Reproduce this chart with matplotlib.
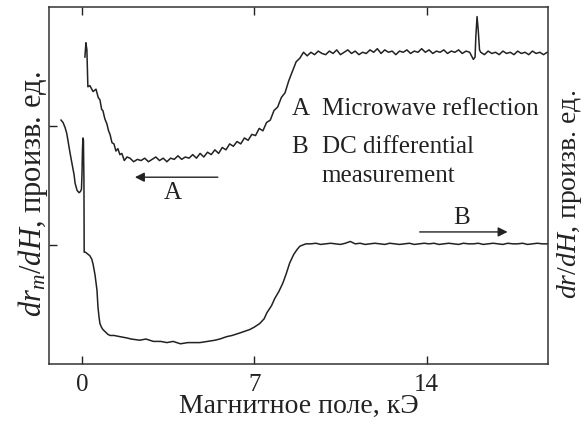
import numpy as np
import matplotlib
matplotlib.use("Agg")
import matplotlib.pyplot as plt

plt.rcParams['font.family'] = ['Liberation Serif', 'DejaVu Serif']
plt.rcParams['mathtext.fontset'] = 'custom'
plt.rcParams['mathtext.rm'] = 'Liberation Serif'
plt.rcParams['mathtext.it'] = 'Liberation Serif:italic'

# ---- Curve A: microwave reflection (dr_m/dH) ----
a_x_start = [0.12, 0.16, 0.20, 0.24, 0.32, 0.45, 0.57, 0.66, 0.73, 0.80, 0.85, 0.93,
             1.01, 1.08, 1.14, 1.22, 1.30, 1.38, 1.46, 1.54, 1.62, 1.72, 1.83]
a_y_start = [2.58, 2.70, 2.64, 2.33, 2.34, 2.29, 2.31, 2.24, 2.22, 2.14, 2.13, 2.06,
             2.02, 1.96, 1.93, 1.86, 1.85, 1.79, 1.81, 1.76, 1.77, 1.71, 1.74]
a_grid_start, a_grid_step = 1.95, 0.15
a_y_grid = [1.73, 1.70, 1.72, 1.71, 1.73, 1.70, 1.72, 1.74, 1.71, 1.73,
            1.70, 1.73, 1.72, 1.75, 1.72, 1.74, 1.73, 1.76, 1.73, 1.77,
            1.74, 1.78, 1.76, 1.80, 1.77, 1.82, 1.80, 1.85, 1.83, 1.87,
            1.85, 1.90, 1.88, 1.93, 1.92, 1.98, 1.96, 2.03, 2.05, 2.13,
            2.16, 2.24, 2.28, 2.38, 2.46, 2.54, 2.57, 2.62, 2.59, 2.62,
            2.60, 2.63, 2.61, 2.60, 2.63, 2.61, 2.64, 2.60, 2.62, 2.64,
            2.61, 2.63, 2.60, 2.62, 2.61, 2.64, 2.62, 2.65, 2.61, 2.64,
            2.62, 2.63, 2.60, 2.63, 2.62, 2.64, 2.61, 2.63, 2.62, 2.65,
            2.62, 2.64, 2.61, 2.63, 2.62, 2.64, 2.61, 2.63, 2.62, 2.64,
            2.61, 2.63, 2.62, 2.56, 2.92, 2.62, 2.60, 2.63, 2.61, 2.62,
            2.60, 2.63, 2.61, 2.62, 2.60, 2.63, 2.61, 2.62, 2.60, 2.63,
            2.61, 2.62, 2.60, 2.62]
a_x_spike = [15.97, 16.00, 16.10, 16.15]
a_y_spike = [2.58, 2.75, 2.80, 2.64]

# ---- Curve B: DC differential measurement (dr/dH) ----
b_x_start = [-0.85, -0.77, -0.69, -0.62, -0.57, -0.49, -0.41, -0.32, -0.28, -0.20, -0.12,
             -0.06, -0.02, 0.00, 0.02, 0.04, 0.06, 0.07, 0.08, 0.09, 0.14, 0.20, 0.26,
             0.32, 0.40, 0.45, 0.53, 0.61, 0.65, 0.69, 0.73, 0.79, 0.85, 0.95, 1.05,
             1.14, 1.30, 1.54, 1.80, 2.00, 2.35, 2.60, 2.90, 3.20, 3.45, 3.70, 4.00,
             4.30, 4.79, 5.10, 5.40, 5.60, 5.88, 6.10, 6.40, 6.82, 7.00, 7.22, 7.40,
             7.51, 7.70, 7.83, 8.00, 8.16, 8.30, 8.44, 8.60, 8.73, 8.85, 8.97, 9.10]
b_y_start = [2.05, 2.03, 1.99, 1.94, 1.88, 1.78, 1.69, 1.59, 1.52, 1.46, 1.44,
             1.45, 1.47, 1.59, 1.80, 1.90, 1.88, 1.70, 1.55, 0.94, 0.94, 0.93, 0.92,
             0.91, 0.88, 0.84, 0.75, 0.62, 0.48, 0.40, 0.34, 0.31, 0.29, 0.27, 0.25,
             0.24, 0.24, 0.23, 0.22, 0.21, 0.20, 0.21, 0.19, 0.19, 0.18, 0.19, 0.17,
             0.18, 0.18, 0.19, 0.20, 0.21, 0.23, 0.24, 0.26, 0.29, 0.31, 0.34, 0.38,
             0.43, 0.49, 0.55, 0.61, 0.68, 0.76, 0.85, 0.92, 0.96, 0.99, 1.00, 1.01]
b_grid_start, b_grid_step = 9.3, 0.2
b_y_grid = [1.010, 1.015, 1.005, 1.010, 1.015, 1.010, 1.005, 1.015, 1.030, 1.010,
            1.015, 1.005, 1.010, 1.015, 1.010, 1.005, 1.015, 1.010, 1.005, 1.010,
            1.015, 1.005, 1.010, 1.015, 1.010, 1.015, 1.005, 1.010, 1.015, 1.010,
            1.005, 1.015, 1.010, 1.010, 1.015, 1.005, 1.010, 1.015, 1.010, 1.005,
            1.015, 1.010, 1.010, 1.015, 1.005, 1.010, 1.015, 1.010, 1.010]

x_ticks = [0, 7, 14]
y_ticks = [1, 2]

def build(xs, ys, g0, gstep, gy, extra_x=(), extra_y=()):
    gx = g0 + gstep * np.arange(len(gy))
    x = np.concatenate([xs, gx, extra_x])
    y = np.concatenate([ys, gy, extra_y])
    o = np.argsort(x, kind='stable')
    return x[o], y[o]

ax_, ay_ = build(a_x_start, a_y_start, a_grid_start, a_grid_step, a_y_grid, a_x_spike, a_y_spike)
bx_, by_ = build(b_x_start, b_y_start, b_grid_start, b_grid_step, b_y_grid)

fig = plt.figure(figsize=(5.88, 4.28), dpi=100)
ax = fig.add_axes([0.0833, 0.1495, 0.849, 0.834])
ax.plot(ax_, ay_, color='#222222', lw=1.1)
ax.plot(bx_, by_, color='#222222', lw=1.1)

ax.set_xlim(-1.34, 18.94)
ax.set_ylim(0, 3)
ax.set_xticks(x_ticks)
ax.set_yticks(y_ticks)
ax.set_yticklabels([])
ax.tick_params(direction='in', length=6, width=1.0, top=True, right=True,
               labelsize=18, pad=7, colors='#222222')
for s in ax.spines.values():
    s.set_linewidth(1.1)
    s.set_color('#333333')

ax.set_xlabel('Магнитное поле, кЭ', fontsize=20, labelpad=-1, color='#222222')
ax.set_ylabel(r'$dr_m/dH$, произв. ед.', fontsize=22, color='#222222')
ax.yaxis.set_label_coords(0.002, 0.476)
ax2 = ax.twinx()
ax2.set_ylim(0, 3)
ax2.set_yticks([])
ax2.set_ylabel(r'$dr/dH$, произв. ед.', fontsize=20, color='#222222')
ax2.yaxis.set_label_coords(1.014, 0.476)
for s in ax2.spines.values():
    s.set_visible(False)

ax.text(8.52, 2.09, 'A', fontsize=18, ha='left', va='baseline', color='#222222')
ax.text(9.74, 2.09, 'Microwave reflection', fontsize=18, ha='left', va='baseline', color='#222222')
ax.text(8.52, 1.77, 'B', fontsize=18, ha='left', va='baseline', color='#222222')
ax.text(9.74, 1.77, 'DC differential', fontsize=18, ha='left', va='baseline', color='#222222')
ax.text(9.74, 1.53, 'measurement', fontsize=18, ha='left', va='baseline', color='#222222')

arrow = dict(arrowstyle='-|>', lw=1.0, color='#222222', mutation_scale=14, shrinkA=0, shrinkB=0)
ax.annotate('', xy=(2.15, 1.57), xytext=(5.52, 1.57), arrowprops=arrow)
ax.text(3.69, 1.44, 'A', fontsize=18, ha='center', va='center', color='#222222')
ax.annotate('', xy=(17.29, 1.11), xytext=(13.72, 1.11), arrowprops=arrow)
ax.text(15.42, 1.23, 'B', fontsize=18, ha='center', va='center', color='#222222')

fig.savefig('out.png', dpi=100)
